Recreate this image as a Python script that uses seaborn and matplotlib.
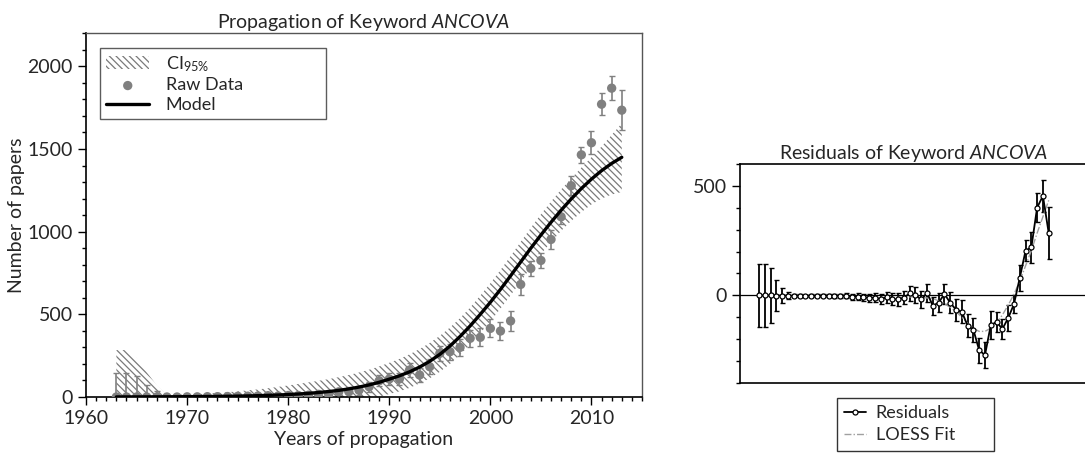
import numpy as np
import pandas as pd
import matplotlib
matplotlib.use("Agg")
import matplotlib.pyplot as plt
from matplotlib.ticker import MultipleLocator, NullLocator
from matplotlib.lines import Line2D
import seaborn as sns

# ---------------- data ----------------
years = list(range(1963, 2014))

raw_papers = [0, 0, 0, 0, 0, 0, 0, 1, 1, 2, 2, 3, 4, 5, 6, 8,
              6, 9, 9, 11, 16, 16, 31, 32, 41, 62, 98,
              109, 109, 163, 133, 183, 264, 274, 300, 355, 361,
              415, 399, 460, 681, 778, 826, 953, 1090, 1278, 1465,
              1538, 1771, 1868, 1735]

raw_error = [143, 143, 127, 73, 36, 15, 6, 5, 5, 6, 6, 7, 8, 9, 10, 12,
             14, 16, 17, 19, 20, 22, 24, 26, 28, 30, 33,
             35, 37, 40, 42, 45, 47, 48, 50, 52, 54,
             55, 57, 60, 62, 47, 45, 60, 42, 58, 48,
             70, 65, 72, 120]

model_fit = [0.5, 0.6, 0.7, 0.9, 1.1, 1.3, 1.6, 2.0, 2.4, 2.9, 3.6, 4.4, 5.4, 6.6, 8.1, 9.9,
             12, 15, 18, 22, 27, 33, 40, 49, 60, 73, 89,
             108, 128, 152, 181, 216, 258, 308, 366, 430, 500,
             573, 651, 733, 817, 900, 980, 1057, 1130, 1198, 1261,
             1318, 1369, 1413, 1450]

ci_upper = [284, 284, 235, 150, 70, 14, 14, 16, 18, 21, 25, 29, 34, 40, 46, 53,
            61, 70, 79, 88, 98, 108, 120, 133, 148, 165, 185,
            207, 230, 258, 290, 327, 370, 420, 477, 541, 613,
            688, 768, 852, 938, 1023, 1105, 1182, 1255, 1322, 1387,
            1450, 1515, 1585, 1655]

ci_lower = [0, 0, 0, 0, 0, 0, 0, 0, 0, 0, 0, 0, 0, 0, 0, 0,
            0, 0, 0, 0, 0, 0, 0, 0, 0, 0, 2,
            18, 34, 55, 82, 113, 152, 200, 255, 318, 387,
            458, 535, 615, 698, 785, 865, 937, 1005, 1065, 1118,
            1165, 1200, 1225, 1240]

loess_fit = [0, 0, 0, 0, 0, 0, 0, 0, 0, 0, 0, -1, -2, -3, -4, -5,
             -6, -7, -8, -8, -9, -9, -9, -9, -9, -8, -7,
             -7, -9, -12, -15, -25, -38, -55, -75, -100, -128,
             -152, -165, -165, -150, -125, -90, -45, 5, 65, 135,
             205, 285, 360, 435]

df = pd.DataFrame({
    "year": years,
    "papers": raw_papers,
    "err": raw_error,
    "model": model_fit,
    "lo": ci_lower,
    "hi": ci_upper,
    "loess": loess_fit,
})
df["resid"] = df["papers"] - df["model"]

# ---------------- style ----------------
sns.set_theme(style="ticks")
plt.rcParams["font.family"] = ["Lato", "DejaVu Sans"]
plt.rcParams["mathtext.fontset"] = "custom"
plt.rcParams["mathtext.rm"] = "Lato"
plt.rcParams["mathtext.it"] = "Lato:italic"
plt.rcParams["mathtext.bf"] = "Lato:bold"
plt.rcParams["hatch.linewidth"] = 0.9
plt.rcParams["hatch.color"] = "#7a7a7a"

FS = 14
LFS = 13
gray = "#808080"

fig = plt.figure(figsize=(10.85, 4.58), dpi=100)
ax = fig.add_axes([0.0793, 0.1332, 0.5124, 0.7941])
axr = fig.add_axes([0.682, 0.1644, 0.3198, 0.4769])

# ---------------- propagation panel ----------------
ax.fill_between(df["year"], df["lo"], df["hi"], facecolor="none",
                edgecolor="#7a7a7a", linewidth=0, hatch="\\\\\\\\\\",
                label=r"CI$_{\mathrm{95\%}}$", zorder=1)
ax.errorbar(df["year"], df["papers"], yerr=df["err"], fmt="none",
            ecolor=gray, elinewidth=1.2, capsize=2.4, capthick=1.0, zorder=2)
sns.scatterplot(data=df, x="year", y="papers", ax=ax, color=gray, s=45,
                edgecolor="none", label="Raw Data", zorder=3)
sns.lineplot(data=df, x="year", y="model", ax=ax, color="black", lw=2.4,
             label="Model", zorder=4)

ax.set_xlim(1960, 2015)
ax.set_ylim(0, 2200)
ax.xaxis.set_major_locator(MultipleLocator(10))
ax.xaxis.set_minor_locator(MultipleLocator(1))
ax.yaxis.set_major_locator(MultipleLocator(500))
ax.yaxis.set_minor_locator(MultipleLocator(100))
ax.tick_params(which="both", direction="out", top=False, right=False,
               labelsize=FS, color="black", width=1.0)
ax.tick_params(which="major", length=6)
ax.tick_params(which="minor", length=3)
ax.set_xlabel("Years of propagation", fontsize=FS, labelpad=3)
ax.set_ylabel("Number of papers", fontsize=FS, labelpad=2)
ax.set_title(r"Propagation of Keyword $\mathit{ANCOVA}$", fontsize=FS, pad=4)
for side in ["left", "bottom"]:
    ax.spines[side].set_color("black")
    ax.spines[side].set_linewidth(1.2)
for side in ["top", "right"]:
    ax.spines[side].set_visible(True)
    ax.spines[side].set_color("#555555")
    ax.spines[side].set_linewidth(1.0)

leg = ax.legend(loc="upper left", bbox_to_anchor=(0.025, 0.96, 0.406, 0),
                mode="expand", borderaxespad=0, fontsize=LFS,
                frameon=True, fancybox=False, handlelength=2.4,
                labelspacing=0.2, borderpad=0.34, handletextpad=0.9)
leg.get_frame().set_edgecolor("#333333")
leg.get_frame().set_linewidth(1.0)

# ---------------- residual panel ----------------
axr.axhline(0, color="black", lw=0.9, zorder=1)
axr.errorbar(df["year"], df["resid"], yerr=df["err"], fmt="none",
             ecolor="black", elinewidth=1.3, capsize=1.8, capthick=1.0, zorder=2)
sns.lineplot(data=df, x="year", y="loess", ax=axr, color="#a0a0a0", lw=1.0,
             linestyle=(0, (5, 1.5, 1, 1.5)), zorder=3, legend=False)
sns.lineplot(data=df, x="year", y="resid", ax=axr, color="black", lw=1.3,
             marker="o", markersize=3.6, markerfacecolor="white",
             markeredgecolor="black", markeredgewidth=0.9, zorder=4, legend=False)

axr.set_xlim(1959.7, 2019.6)
axr.set_ylim(-400, 600)
axr.xaxis.set_major_locator(NullLocator())
axr.xaxis.set_minor_locator(NullLocator())
axr.yaxis.set_major_locator(MultipleLocator(500))
axr.yaxis.set_minor_locator(MultipleLocator(100))
axr.tick_params(which="both", direction="out", labelsize=FS, color="black", width=1.0)
axr.tick_params(which="major", length=6)
axr.tick_params(which="minor", length=3)
axr.set_xlabel("")
axr.set_ylabel("")
axr.set_title(r"Residuals of Keyword $\mathit{ANCOVA}$", fontsize=FS, pad=4)
for side in ["left", "bottom", "top", "right"]:
    axr.spines[side].set_color("black")
    axr.spines[side].set_linewidth(1.2)

res_handles = [
    Line2D([], [], color="black", lw=1.3, marker="o", markersize=3.6,
           markerfacecolor="white", markeredgecolor="black", markeredgewidth=0.9),
    Line2D([], [], color="#a0a0a0", lw=1.0, linestyle=(0, (5, 1.5, 1, 1.5))),
]
legr = axr.legend(res_handles, ["Residuals", "LOESS Fit"], loc="upper left",
                  bbox_to_anchor=(0.279, -0.069, 0.453, 0), mode="expand",
                  fontsize=LFS, frameon=True, fancybox=False, handlelength=1.2,
                  labelspacing=0.35, borderpad=0.4, handletextpad=0.55,
                  borderaxespad=0)
legr.get_frame().set_edgecolor("black")
legr.get_frame().set_linewidth(1.0)

fig.savefig("out.png", dpi=100)
